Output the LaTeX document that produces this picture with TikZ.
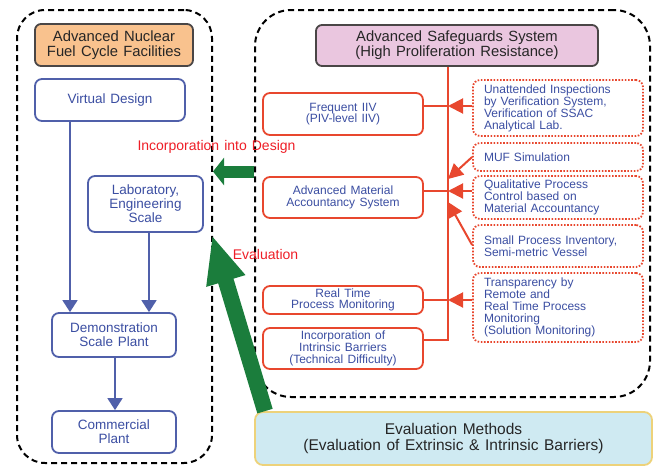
\documentclass[tikz,border=0pt]{standalone}
\usepackage{fontspec}
\setmainfont[WordSpace=1.3]{Liberation Sans}
\usetikzlibrary{arrows.meta,calc}
\definecolor{orangeF}{HTML}{F9C28E}
\definecolor{pinkF}{HTML}{EAC6DF}
\definecolor{darkB}{HTML}{4A4646}
\definecolor{blueB}{HTML}{5060AA}
\definecolor{blueT}{HTML}{3B4EA2}
\definecolor{redB}{HTML}{E8472E}
\definecolor{redT}{HTML}{EE1D26}
\definecolor{greenA}{HTML}{1B7D3C}
\definecolor{evalF}{HTML}{CFEAF2}
\definecolor{evalB}{HTML}{EDD27A}
\begin{document}
\begin{tikzpicture}[x=1pt,y=-1pt,
  container/.style={draw=black, line width=2pt, dash pattern=on 6pt off 4pt, rounded corners=28pt, inner sep=0pt},
  headbox/.style={draw=darkB, line width=1.8pt, rounded corners=6pt, text=black!85, font=\fontsize{14.8}{15}\selectfont, align=center, inner sep=0pt},
  bluebox/.style={draw=blueB, fill=white, line width=1.8pt, rounded corners=7pt, text=blueT, font=\fontsize{13.5}{14}\selectfont, align=center, inner sep=0pt},
  redbox/.style={draw=redB, fill=white, line width=1.8pt, rounded corners=7pt, text=blueT, font=\fontsize{12}{11.7}\selectfont, align=center, inner sep=0pt},
  dotbox/.style={draw=redB, fill=white, line width=1.8pt, dash pattern=on 1.6pt off 1.6pt, rounded corners=7pt, text=blueT, font=\fontsize{12}{12}\selectfont, align=left, text width=148pt, inner xsep=11pt, inner ysep=0pt},
  blueflow/.style={draw=blueB, line width=1.8pt, -{Triangle[length=12pt,width=15pt]}},
  redline/.style={draw=redB, line width=2pt},
  redarrow/.style={redline, -{Triangle[length=15pt,width=15pt]}},
  greenarrow/.style={draw=greenA, -{Triangle[length=11pt,width=27pt]}},
  lbl/.style={text=redT, font=\fontsize{14}{15}\selectfont, inner sep=0pt}
]
\useasboundingbox (0,0) rectangle (655,466);

% containers
\node[container, minimum width=195pt, minimum height=453pt] (lc) at (114.5,236.5) {};
\node[container, rounded corners=36pt, minimum width=395pt, minimum height=387pt] (rc) at (452.5,203.5) {};

% left column
\node[headbox, fill=orangeF, minimum width=158pt, minimum height=42pt] (nuc) at (114,45) {Advanced Nuclear\\Fuel Cycle Facilities};
\node[bluebox, minimum width=150pt, minimum height=42pt] (vd) at (110,100) {Virtual Design};
\node[bluebox, minimum width=115pt, minimum height=56pt] (lab) at (145.5,204) {Laboratory,\\Engineering\\Scale};
\node[bluebox, minimum width=124pt, minimum height=44pt] (demo) at (114,335) {Demonstration\\Scale Plant};
\node[bluebox, minimum width=124pt, minimum height=42pt] (comm) at (114,432) {Commercial\\Plant};

\coordinate (xa) at (70,0);
\coordinate (xb) at (149,0);
\coordinate (xc) at (115,0);
\draw[blueflow] (vd.south -| xa) -- (demo.north -| xa);
\draw[blueflow] (lab.south -| xb) -- (demo.north -| xb);
\draw[blueflow] (demo.south -| xc) -- (comm.north -| xc);

% right column
\node[headbox, fill=pinkF, minimum width=282pt, minimum height=41pt] (asg) at (457,45.5) {Advanced Safeguards System\\(High Proliferation Resistance)};
\node[redbox, minimum width=160pt, minimum height=42pt] (fiiv) at (343,114) {Frequent IIV\\(PIV-level IIV)};
\node[redbox, minimum width=160pt, minimum height=41pt] (amas) at (343,197.5) {Advanced Material\\Accountancy System};
\node[redbox, minimum width=160pt, minimum height=28pt] (rtpm) at (343,300) {Real Time\\Process Monitoring};
\node[redbox, minimum width=160pt, minimum height=41pt] (iib) at (343,348.5) {Incorporation of\\Intrinsic Barriers\\(Technical Difficulty)};

\node[dotbox, minimum height=56pt] (unatt) at (558,108) {Unattended Inspections\\by Verification System,\\Verification of SSAC\\Analytical Lab.};
\node[dotbox, minimum height=28pt] (muf) at (558,157) {MUF Simulation};
\node[dotbox, minimum height=43pt] (qual) at (558,197.5) {Qualitative Process\\Control based on\\Material Accountancy};
\node[dotbox, minimum height=42pt] (small) at (558,246) {Small Process Inventory,\\Semi-metric Vessel};
\node[dotbox, minimum height=69pt] (transp) at (558,307.5) {Transparency by\\Remote and\\Real Time Process\\Monitoring\\(Solution Monitoring)};

\coordinate (j1) at (448,106);
\coordinate (j2) at (448,191);
\coordinate (j3) at (448,300);
\coordinate (j4) at (448,340);
\coordinate (jm) at (448,179);
\coordinate (js) at (448,202);

\draw[redline] (asg.south -| j1) -- (j4) -- (iib.east |- j4);
\draw[redline] (fiiv.east |- j1) -- (j1);
\draw[redline] (amas.east |- j2) -- (j2);
\draw[redline] (rtpm.east |- j3) -- (j3);

\draw[redarrow] (unatt.west |- j1) -- (j1);
\draw[redarrow] (muf.west) -- (jm);
\draw[redarrow] (qual.west |- j2) -- (j2);
\draw[redarrow] ([yshift=1pt]small.west) -- (js);
\draw[redarrow] (transp.west |- j3) -- (j3);

% evaluation box
\node[draw=evalB, fill=evalF, line width=1.8pt, rounded corners=8pt, minimum width=397pt, minimum height=53pt, font=\fontsize{15.5}{15.5}\selectfont, align=center, text=black!85] (evalm) at (453.5,438.5) {Evaluation Methods\\(Evaluation of Extrinsic \& Intrinsic Barriers)};

% green arrows
\coordinate (gy) at (0,171.5);
\draw[greenarrow, line width=12pt] (rc.west |- gy) -- (lc.east |- gy);
\coordinate (gx) at (265,0);
\coordinate (gt) at (212,235);
\draw[draw=greenA, line width=16pt, -{Triangle[length=48pt,width=37pt]}] (evalm.north -| gx) -- (gt);

% labels
\node[lbl] (linc) at (216.5,147) {Incorporation into Design};
\node[lbl] (leval) at (265.5,254) {Evaluation};
\end{tikzpicture}
\end{document}
